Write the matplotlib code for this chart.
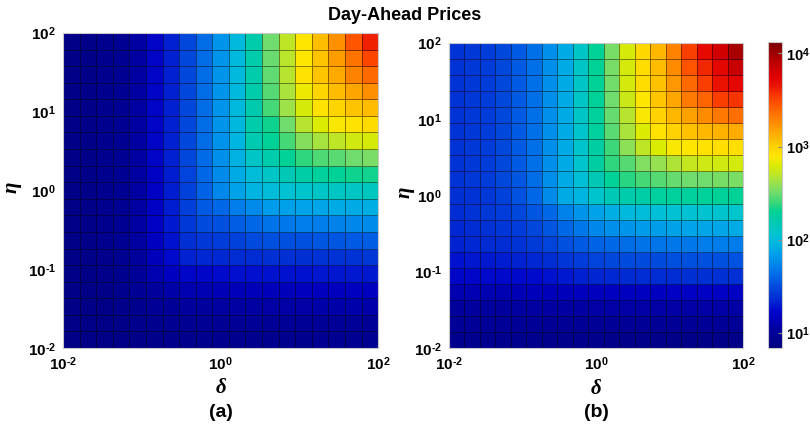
import numpy as np
import matplotlib
matplotlib.use("Agg")
import matplotlib.pyplot as plt
from matplotlib.colors import LogNorm, LinearSegmentedColormap

plt.rcParams["font.family"] = ["Liberation Sans", "DejaVu Sans"]
plt.rcParams["font.weight"] = "bold"
plt.rcParams["mathtext.fontset"] = "custom"
plt.rcParams["mathtext.rm"] = "Liberation Sans:bold"
plt.rcParams["mathtext.it"] = "Liberation Serif:italic:bold"
plt.rcParams["mathtext.bf"] = "Liberation Sans:bold"

# ── data ─────────────────────────────────────────────────────────────────────
# log10 of the day-ahead price in every cell, top row (eta = 1e2) first,
# columns from delta = 1e-2 to 1e2
price_exp_a = [
    [0.88, 0.90, 0.93, 0.96, 1.05, 1.20, 1.32, 1.48, 1.64, 1.80, 1.98, 2.22, 2.50, 2.70, 2.90, 3.07, 3.24, 3.45, 3.62],
    [0.88, 0.90, 0.93, 0.96, 1.05, 1.20, 1.32, 1.48, 1.64, 1.80, 1.98, 2.22, 2.49, 2.69, 2.90, 3.05, 3.20, 3.35, 3.50],
    [0.88, 0.90, 0.93, 0.96, 1.05, 1.20, 1.32, 1.48, 1.64, 1.80, 1.98, 2.22, 2.47, 2.68, 2.92, 3.05, 3.15, 3.30, 3.38],
    [0.88, 0.90, 0.93, 0.96, 1.05, 1.20, 1.32, 1.48, 1.64, 1.80, 1.98, 2.22, 2.45, 2.65, 2.85, 2.98, 3.08, 3.17, 3.25],
    [0.88, 0.90, 0.93, 0.96, 1.05, 1.20, 1.32, 1.48, 1.64, 1.80, 1.98, 2.21, 2.42, 2.62, 2.78, 2.92, 2.98, 3.05, 3.08],
    [0.88, 0.90, 0.93, 0.96, 1.05, 1.20, 1.32, 1.48, 1.64, 1.80, 1.97, 2.22, 2.32, 2.50, 2.68, 2.80, 2.88, 2.92, 2.96],
    [0.88, 0.90, 0.93, 0.96, 1.05, 1.20, 1.32, 1.48, 1.64, 1.79, 1.96, 2.20, 2.30, 2.42, 2.56, 2.64, 2.70, 2.76, 2.78],
    [0.88, 0.90, 0.93, 0.96, 1.05, 1.20, 1.32, 1.48, 1.63, 1.78, 1.93, 2.10, 2.22, 2.30, 2.38, 2.44, 2.46, 2.50, 2.53],
    [0.88, 0.90, 0.93, 0.96, 1.05, 1.19, 1.31, 1.47, 1.62, 1.76, 1.90, 2.00, 2.10, 2.18, 2.24, 2.28, 2.30, 2.32, 2.33],
    [0.88, 0.90, 0.93, 0.96, 1.05, 1.19, 1.31, 1.46, 1.60, 1.74, 1.86, 1.95, 2.00, 2.05, 2.08, 2.10, 2.12, 2.12, 2.13],
    [0.88, 0.90, 0.93, 0.96, 1.05, 1.19, 1.31, 1.45, 1.56, 1.62, 1.70, 1.76, 1.82, 1.85, 1.87, 1.88, 1.90, 1.90, 1.92],
    [0.88, 0.90, 0.93, 0.96, 1.05, 1.18, 1.30, 1.42, 1.50, 1.52, 1.58, 1.62, 1.66, 1.68, 1.70, 1.70, 1.72, 1.74, 1.76],
    [0.88, 0.90, 0.93, 0.96, 1.04, 1.17, 1.28, 1.38, 1.42, 1.44, 1.46, 1.50, 1.52, 1.52, 1.52, 1.54, 1.54, 1.56, 1.58],
    [0.88, 0.90, 0.92, 0.95, 1.02, 1.15, 1.25, 1.33, 1.35, 1.35, 1.37, 1.37, 1.38, 1.38, 1.38, 1.40, 1.40, 1.40, 1.42],
    [0.88, 0.89, 0.91, 0.94, 1.00, 1.10, 1.17, 1.22, 1.22, 1.25, 1.27, 1.27, 1.28, 1.28, 1.28, 1.29, 1.29, 1.30, 1.30],
    [0.88, 0.89, 0.90, 0.93, 0.97, 1.03, 1.07, 1.10, 1.12, 1.13, 1.14, 1.14, 1.15, 1.15, 1.16, 1.16, 1.16, 1.17, 1.17],
    [0.88, 0.88, 0.89, 0.91, 0.94, 0.98, 1.00, 1.02, 1.03, 1.04, 1.05, 1.05, 1.06, 1.06, 1.06, 1.07, 1.07, 1.08, 1.08],
    [0.88, 0.88, 0.89, 0.90, 0.92, 0.94, 0.95, 0.96, 0.97, 0.97, 0.98, 0.98, 0.98, 0.99, 0.99, 0.99, 1.00, 1.00, 1.00],
    [0.88, 0.88, 0.88, 0.89, 0.90, 0.91, 0.92, 0.92, 0.93, 0.93, 0.93, 0.94, 0.94, 0.94, 0.94, 0.95, 0.95, 0.95, 0.95],
]

price_exp_b = [
    [1.40, 1.42, 1.44, 1.48, 1.56, 1.65, 1.78, 1.90, 2.10, 2.30, 2.52, 2.78, 2.97, 3.10, 3.30, 3.52, 3.70, 3.82, 3.97],
    [1.40, 1.42, 1.44, 1.48, 1.56, 1.65, 1.78, 1.90, 2.10, 2.30, 2.52, 2.77, 2.95, 3.08, 3.26, 3.46, 3.60, 3.72, 3.86],
    [1.40, 1.42, 1.44, 1.48, 1.56, 1.65, 1.78, 1.90, 2.10, 2.30, 2.51, 2.77, 2.95, 3.06, 3.22, 3.38, 3.53, 3.66, 3.72],
    [1.40, 1.42, 1.44, 1.48, 1.56, 1.65, 1.78, 1.90, 2.10, 2.29, 2.50, 2.74, 2.90, 3.04, 3.16, 3.32, 3.40, 3.53, 3.56],
    [1.40, 1.42, 1.44, 1.48, 1.56, 1.65, 1.78, 1.90, 2.10, 2.28, 2.48, 2.68, 2.88, 3.00, 3.10, 3.18, 3.26, 3.33, 3.37],
    [1.40, 1.42, 1.44, 1.48, 1.56, 1.65, 1.78, 1.90, 2.08, 2.27, 2.46, 2.65, 2.80, 2.92, 3.00, 3.06, 3.10, 3.12, 3.14],
    [1.40, 1.42, 1.44, 1.48, 1.56, 1.65, 1.78, 1.90, 2.08, 2.25, 2.40, 2.57, 2.70, 2.80, 2.88, 2.90, 2.92, 2.94, 2.94],
    [1.40, 1.42, 1.44, 1.48, 1.56, 1.65, 1.78, 1.90, 2.07, 2.25, 2.38, 2.45, 2.55, 2.60, 2.66, 2.72, 2.75, 2.76, 2.77],
    [1.40, 1.42, 1.44, 1.48, 1.55, 1.64, 1.77, 1.90, 2.02, 2.18, 2.30, 2.37, 2.42, 2.45, 2.48, 2.50, 2.50, 2.52, 2.53],
    [1.38, 1.40, 1.42, 1.46, 1.53, 1.62, 1.76, 1.90, 1.96, 2.08, 2.17, 2.22, 2.24, 2.27, 2.28, 2.28, 2.29, 2.29, 2.30],
    [1.37, 1.40, 1.42, 1.44, 1.48, 1.55, 1.62, 1.72, 1.80, 1.86, 1.92, 1.98, 2.00, 2.02, 2.04, 2.05, 2.06, 2.07, 2.08],
    [1.35, 1.37, 1.39, 1.41, 1.44, 1.48, 1.54, 1.62, 1.68, 1.74, 1.78, 1.80, 1.82, 1.84, 1.86, 1.87, 1.88, 1.88, 1.90],
    [1.33, 1.35, 1.36, 1.37, 1.40, 1.43, 1.47, 1.52, 1.56, 1.60, 1.62, 1.64, 1.66, 1.67, 1.68, 1.68, 1.70, 1.70, 1.70],
    [1.28, 1.29, 1.30, 1.31, 1.33, 1.35, 1.37, 1.41, 1.44, 1.47, 1.48, 1.50, 1.50, 1.50, 1.52, 1.52, 1.52, 1.52, 1.53],
    [1.22, 1.22, 1.23, 1.23, 1.24, 1.25, 1.28, 1.30, 1.32, 1.34, 1.35, 1.36, 1.37, 1.37, 1.37, 1.38, 1.38, 1.38, 1.38],
    [1.10, 1.11, 1.12, 1.12, 1.13, 1.14, 1.15, 1.15, 1.16, 1.16, 1.17, 1.17, 1.17, 1.17, 1.18, 1.18, 1.18, 1.18, 1.18],
    [1.02, 1.02, 1.03, 1.03, 1.04, 1.04, 1.05, 1.05, 1.05, 1.06, 1.06, 1.06, 1.06, 1.06, 1.06, 1.06, 1.06, 1.06, 1.06],
    [0.98, 0.98, 0.98, 0.98, 0.98, 0.98, 0.98, 0.98, 0.98, 0.98, 0.98, 0.98, 0.98, 0.98, 0.98, 0.98, 0.98, 0.98, 0.98],
    [0.94, 0.94, 0.94, 0.93, 0.93, 0.93, 0.92, 0.92, 0.92, 0.92, 0.91, 0.91, 0.91, 0.91, 0.90, 0.90, 0.90, 0.90, 0.90],
]

x_ticks = [1e-2, 1e0, 1e2]
x_ticklabels = [r"$10^{\text{-}2}$", r"$10^{0}$", r"$10^{2}$"]
y_ticks = [1e-2, 1e-1, 1e0, 1e1, 1e2]
y_ticklabels = [r"$10^{\text{-}2}$", r"$10^{\text{-}1}$", r"$10^{0}$",
                r"$10^{1}$", r"$10^{2}$"]
cb_ticks = [1e1, 1e2, 1e3, 1e4]
cb_ticklabels = [r"$10^{1}$", r"$10^{2}$", r"$10^{3}$", r"$10^{4}$"]
panel_tags = ["(a)", "(b)"]

# cell edges: 19 x 19 cells on log axes, 1e-2 .. 1e2
delta_edges = np.logspace(-2, 2, 20)
eta_edges = np.logspace(-2, 2, 20)

# jet-like colour map as it looks in the picture
jet_stops = [
    (0.000, "#000080"), (0.055, "#00009c"), (0.100, "#0000c0"),
    (0.125, "#000acd"), (0.155, "#0028d2"), (0.195, "#0046dc"),
    (0.232, "#0064e6"), (0.268, "#0082eb"), (0.300, "#009beb"),
    (0.338, "#00b4e1"), (0.369, "#00c3d2"), (0.409, "#00c8b4"),
    (0.445, "#00d296"), (0.476, "#3cd778"), (0.506, "#6edc6e"),
    (0.537, "#96e150"), (0.567, "#bee628"), (0.598, "#dceb00"),
    (0.628, "#ffe600"), (0.659, "#ffd200"), (0.680, "#ffbe00"),
    (0.710, "#ffa500"), (0.738, "#ff8c00"), (0.771, "#ff6e00"),
    (0.802, "#ff5000"), (0.832, "#f53200"), (0.857, "#eb1400"),
    (0.887, "#e10000"), (0.933, "#be0000"), (0.963, "#a00000"),
    (1.000, "#7a0000"),
]
cmap = LinearSegmentedColormap.from_list("jet_pic", jet_stops, N=512)
norm = LogNorm(vmin=6.9, vmax=13200)

fig = plt.figure(figsize=(8.10, 4.34), dpi=100)
ax_a = fig.add_axes([0.0778, 0.198, 0.389, 0.726])
ax_b = fig.add_axes([0.5543, 0.198, 0.363, 0.703])
cax = fig.add_axes([0.9482, 0.198, 0.0173, 0.705])

# (axes, values, tag, eta label x, delta label y) in axes fractions
panels = [
    (ax_a, price_exp_a, panel_tags[0], -0.125, -0.095),
    (ax_b, price_exp_b, panel_tags[1], -0.110, -0.100),
]

for ax, exps, tag, ylab_x, xlab_y in panels:
    prices = 10.0 ** np.flipud(np.array(exps))
    mesh = ax.pcolormesh(delta_edges, eta_edges, prices, cmap=cmap, norm=norm,
                         edgecolors=(0, 0, 0, 0.45), linewidth=0.5)
    ax.set_xscale("log")
    ax.set_yscale("log")
    ax.set_xlim(1e-2, 1e2)
    ax.set_ylim(1e-2, 1e2)
    ax.set_xticks(x_ticks)
    ax.set_xticklabels(x_ticklabels)
    ax.set_yticks(y_ticks)
    ax.set_yticklabels(y_ticklabels)
    ax.minorticks_off()
    ax.tick_params(length=0, labelsize=11, pad=5)
    for sp in ax.spines.values():
        sp.set_color("#c8c8c8")
        sp.set_linewidth(0.8)
    ax.set_xlabel(r"$\delta$", fontsize=15)
    ax.set_ylabel(r"$\eta$", fontsize=15)
    ax.xaxis.set_label_coords(0.5, xlab_y)
    ax.yaxis.set_label_coords(ylab_x, 0.51)
    # panel tag centred under each map
    bb = ax.get_position()
    fig.text((bb.x0 + bb.x1) / 2, 0.05, tag, ha="center", va="center",
             fontsize=14, fontweight="bold")

cb = fig.colorbar(mesh, cax=cax)
cb.set_ticks(cb_ticks)
cb.set_ticklabels(cb_ticklabels)
cb.ax.minorticks_off()
cb.ax.tick_params(length=3, direction="in", labelsize=10.5, pad=3,
                  color="#888888")
cb.outline.set_edgecolor("#c8c8c8")
cb.outline.set_linewidth(0.8)

fig.text(0.5, 0.965, "Day-Ahead Prices", ha="center", va="center",
         fontsize=13, fontweight="bold")

fig.savefig("out.png", dpi=100)
